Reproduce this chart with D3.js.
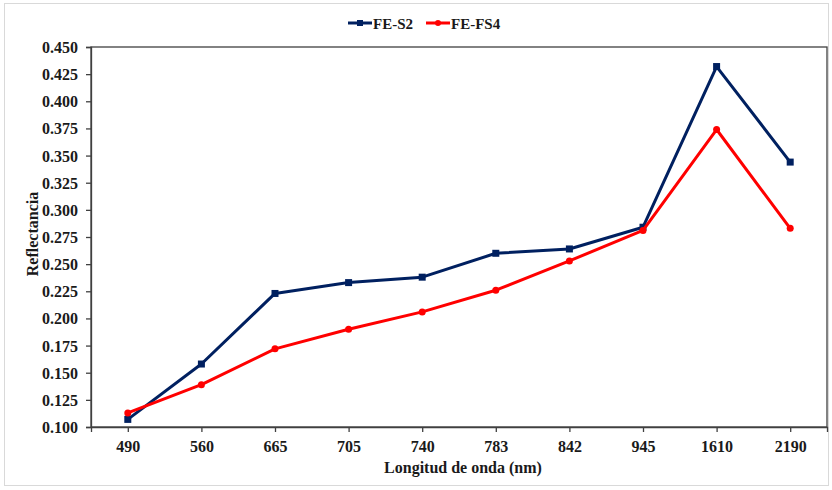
<!DOCTYPE html>
<html><head><meta charset="utf-8">
<script src="https://cdn.jsdelivr.net/npm/d3@7"></script>
<style>body{margin:0;background:#fff}svg{display:block}text{font-family:"Liberation Serif","Times New Roman",serif;font-weight:bold;fill:#1a1a1a}</style>
</head><body><svg id="c" width="832" height="490"></svg>
<script>
const categories = ["490","560","665","705","740","783","842","945","1610","2190"];
const feS2 = [0.107,0.158,0.223,0.233,0.238,0.260,0.264,0.284,0.432,0.344];
const feFS4 = [0.113,0.139,0.172,0.190,0.206,0.226,0.253,0.281,0.374,0.283];
const yTicks = [0.100,0.125,0.150,0.175,0.200,0.225,0.250,0.275,0.300,0.325,0.350,0.375,0.400,0.425,0.450];
const seriesNames = ["FE-S2","FE-FS4"];
const colors = ["#002060","#ff0000"];

const svg = d3.select("#c");
svg.append("rect").attr("x",4.5).attr("y",3.5).attr("width",824).attr("height",482)
  .attr("fill","#fff").attr("stroke","#d9d9d9").attr("stroke-width",1);

const L=91, R=827, T=47, B=427;
const x = d3.scalePoint().domain(categories).range([L,R]).padding(0.5);
const y = d3.scaleLinear().domain([0.1,0.45]).range([B,T]);

svg.append("rect").attr("x",L).attr("y",T).attr("width",R-L).attr("height",B-T)
  .attr("fill","none").attr("stroke","#404040").attr("stroke-width",1.3);

const ya = svg.append("g").attr("transform",`translate(${L},0)`)
  .call(d3.axisLeft(y).tickValues(yTicks).tickFormat(d3.format(".3f")).tickSize(5).tickPadding(8));
ya.select(".domain").attr("stroke","#404040").attr("stroke-width",1.3);
ya.selectAll(".tick line").attr("stroke","#404040").attr("stroke-width",1.3);
ya.selectAll("text").style("font-size","16px").attr("dy","0.34em");

const xa = svg.append("g").attr("transform",`translate(0,${B})`)
  .call(d3.axisBottom(x).tickSize(5).tickPadding(9));
xa.select(".domain").attr("stroke","#404040").attr("stroke-width",1.3);
xa.selectAll(".tick line").attr("stroke","#404040").attr("stroke-width",1.3);
xa.selectAll("text").style("font-size","16px");

svg.append("text").attr("transform",`translate(38,234) rotate(-90)`)
  .attr("text-anchor","middle").style("font-size","16px").text("Reflectancia");
svg.append("text").attr("x",463).attr("y",473).attr("text-anchor","middle")
  .style("font-size","16px").text("Longitud de onda (nm)");

const data = [feS2, feFS4];
const line = d3.line().x((d,i)=>x(categories[i])).y(d=>y(d));
data.forEach((vals,si)=>{
  svg.append("path").datum(vals).attr("d",line).attr("fill","none")
    .attr("stroke",colors[si]).attr("stroke-width",3).attr("stroke-linejoin","round");
  const g = svg.append("g");
  vals.forEach((v,i)=>{
    if(si===0) g.append("rect").attr("x",x(categories[i])-3.5).attr("y",y(v)-3.5)
      .attr("width",7).attr("height",7).attr("fill",colors[si]);
    else g.append("circle").attr("cx",x(categories[i])).attr("cy",y(v)).attr("r",3.5).attr("fill",colors[si]);
  });
});

// legend
const lg = svg.append("g");
const lx = [348, 426];
seriesNames.forEach((n,i)=>{
  lg.append("line").attr("x1",lx[i]).attr("x2",lx[i]+24).attr("y1",23).attr("y2",23)
    .attr("stroke",colors[i]).attr("stroke-width",3);
  if(i===0) lg.append("rect").attr("x",lx[i]+12-3).attr("y",20).attr("width",6).attr("height",6).attr("fill",colors[i]);
  else lg.append("circle").attr("cx",lx[i]+12).attr("cy",23).attr("r",3).attr("fill",colors[i]);
  lg.append("text").attr("x",lx[i]+25).attr("y",28.5).style("font-size","15px").text(n);
});
</script></body></html>
